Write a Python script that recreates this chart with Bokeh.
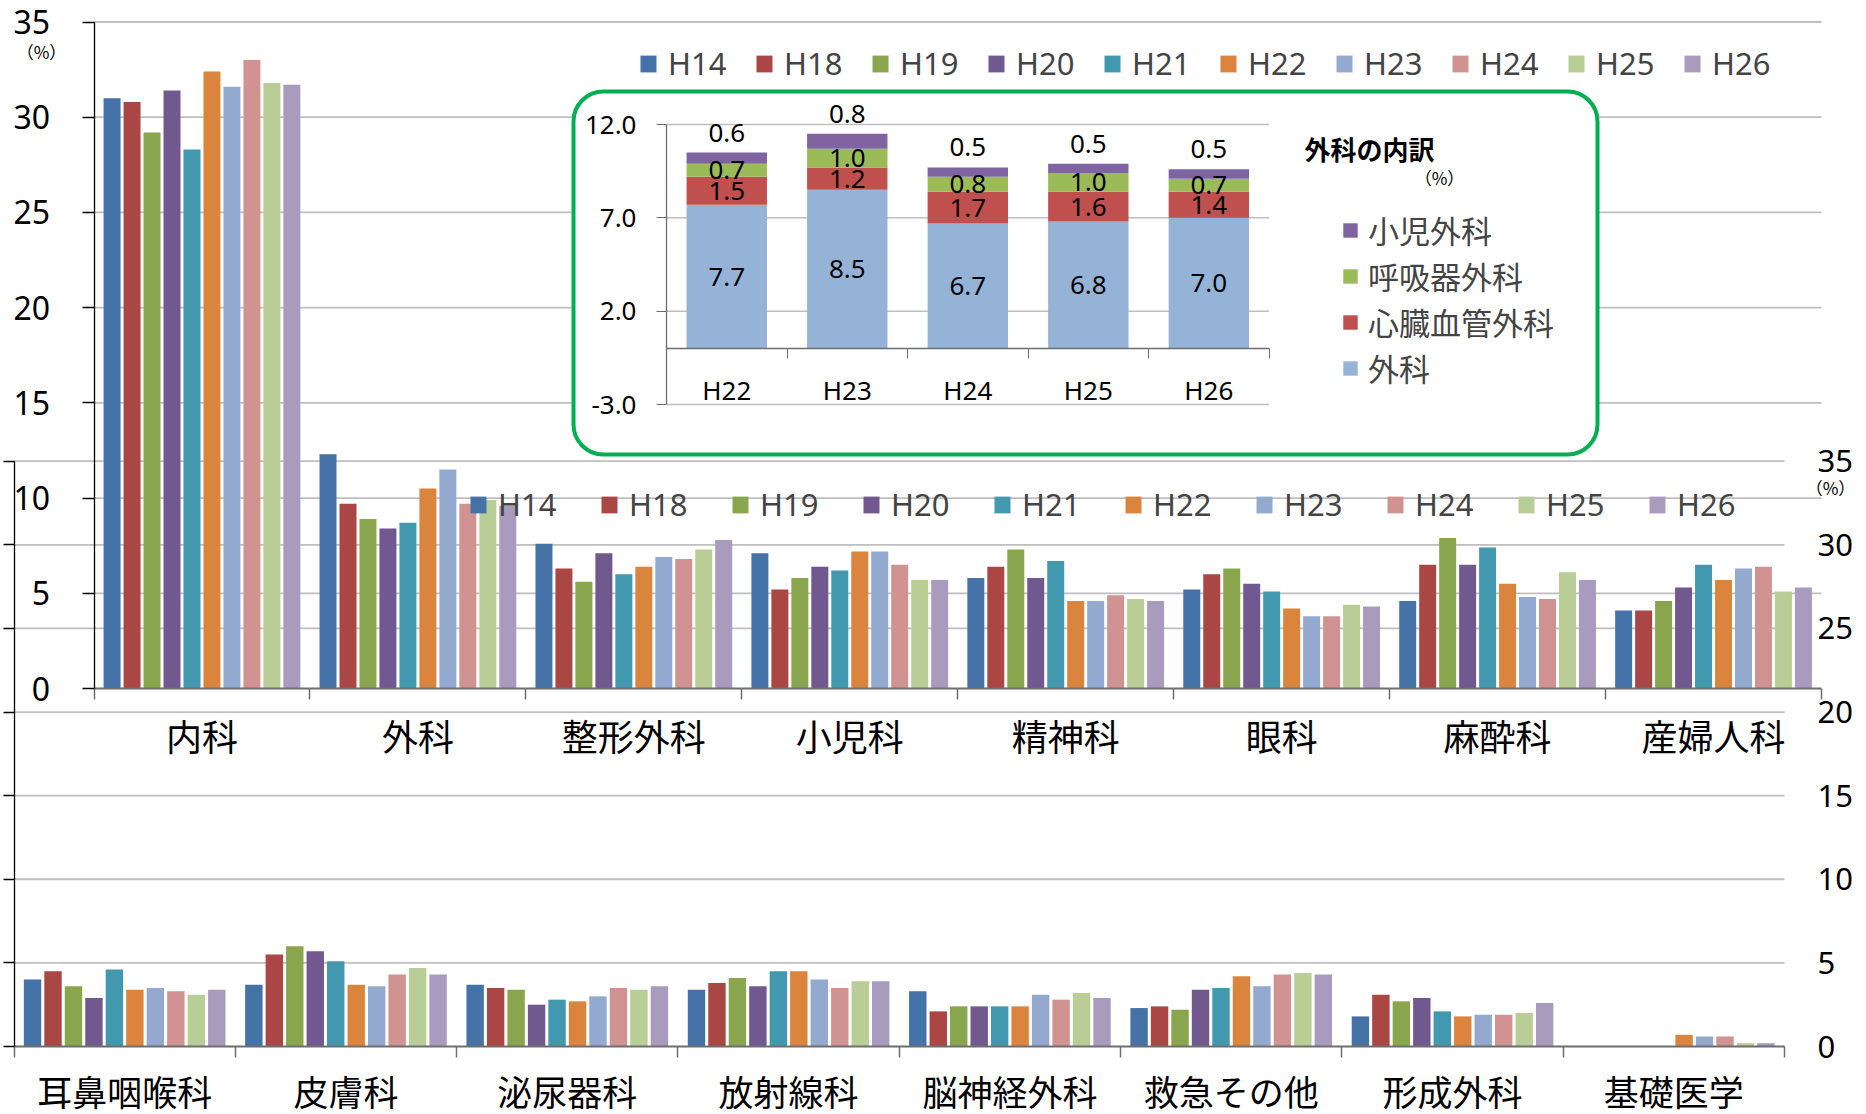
import numpy as np
from bokeh.plotting import figure
from bokeh.models import (Range1d, LinearAxis, FixedTicker, Legend, LegendItem,
                          Label, PrintfTickFormatter)
from bokeh.core.properties import value
from bokeh.embed import file_html
from bokeh.resources import INLINE

W, H, OFF = 1866, 1114, 0

# ---------------- data ----------------
years = ["H14", "H18", "H19", "H20", "H21", "H22", "H23", "H24", "H25", "H26"]
colors = ["#4572A7", "#AA4643", "#89A54E", "#71588F", "#4198AF",
          "#DB843D", "#93A9CF", "#D19392", "#B9CD96", "#A99BBD"]

depts_top = ["内科", "外科", "整形外科", "小児科", "精神科", "眼科", "麻酔科", "産婦人科"]
naika = [31.0, 30.8, 29.2, 31.4, 28.3, 32.4, 31.6, 33.0, 31.8, 31.7]
geka = [12.3, 9.7, 8.9, 8.4, 8.7, 10.5, 11.5, 9.7, 9.9, 9.6]
seikei = [7.6, 6.3, 5.6, 7.1, 6.0, 6.4, 6.9, 6.8, 7.3, 7.8]
shonika = [7.1, 5.2, 5.8, 6.4, 6.2, 7.2, 7.2, 6.5, 5.7, 5.7]
seishin = [5.8, 6.4, 7.3, 5.8, 6.7, 4.6, 4.6, 4.9, 4.7, 4.6]
ganka = [5.2, 6.0, 6.3, 5.5, 5.1, 4.2, 3.8, 3.8, 4.4, 4.3]
masui = [4.6, 6.5, 7.9, 6.5, 7.4, 5.5, 4.8, 4.7, 6.1, 5.7]
sanfujin = [4.1, 4.1, 4.6, 5.3, 6.5, 5.7, 6.3, 6.4, 5.1, 5.3]

depts_bottom = ["耳鼻咽喉科", "皮膚科", "泌尿器科", "放射線科", "脳神経外科", "救急その他", "形成外科", "基礎医学"]
jibi = [4.0, 4.5, 3.6, 2.9, 4.6, 3.4, 3.5, 3.3, 3.1, 3.4]
hifu = [3.7, 5.5, 6.0, 5.7, 5.1, 3.7, 3.6, 4.3, 4.7, 4.3]
hinyoki = [3.7, 3.5, 3.4, 2.5, 2.8, 2.7, 3.0, 3.5, 3.4, 3.6]
hoshasen = [3.4, 3.8, 4.1, 3.6, 4.5, 4.5, 4.0, 3.5, 3.9, 3.9]
noshinkei = [3.3, 2.1, 2.4, 2.4, 2.4, 2.4, 3.1, 2.8, 3.2, 2.9]
kyukyu = [2.3, 2.4, 2.2, 3.4, 3.5, 4.2, 3.6, 4.3, 4.4, 4.3]
keisei = [1.8, 3.1, 2.7, 2.9, 2.1, 1.8, 1.9, 1.9, 2.0, 2.6]
kiso = [None, None, None, None, None, 0.7, 0.6, 0.6, 0.2, 0.2]

inset_years = ["H22", "H23", "H24", "H25", "H26"]
inset_names = ["外科", "心臓血管外科", "呼吸器外科", "小児外科"]
inset_colors = ["#95B3D7", "#C0504D", "#9BBB59", "#8064A2"]
in_geka = [7.7, 8.5, 6.7, 6.8, 7.0]
in_shinzo = [1.5, 1.2, 1.7, 1.6, 1.4]
in_kokyu = [0.7, 1.0, 0.8, 1.0, 0.7]
in_shoni = [0.6, 0.8, 0.5, 0.5, 0.5]

ticks35 = [0, 5, 10, 15, 20, 25, 30, 35]
inset_ticks = [-3.0, 2.0, 7.0, 12.0]

JP = "Noto Sans CJK JP"
NUM = "Noto Sans"
GRID = "#BFBFBF"
AX = "#6E6E6E"


def xr(v0, p0, v1, p1):
    s = (v1 - v0) / (p1 - p0)
    return Range1d(v0 + (OFF - p0) * s, v0 + (OFF + W - p0) * s)


def yr(v0, p0, v1, p1):
    s = (v1 - v0) / (p1 - p0)
    return Range1d(v0 + (OFF + H - p0) * s, v0 + (OFF - p0) * s)


p = figure(width=W, height=H, x_range=Range1d(OFF, W + OFF), y_range=Range1d(H + OFF, OFF),
           x_axis_type=None, y_axis_type=None, min_border=0, toolbar_location=None,
           output_backend="svg", title=None, outline_line_color=None,
           background_fill_color="white", border_fill_color="white")
p.extra_x_ranges = {"x1": xr(-0.5, 93.5, 7.5, 1821), "x2": xr(-0.5, 13.5, 7.5, 1784),
                    "x3": xr(-0.5, 666, 4.5, 1268.6)}
p.extra_y_ranges = {"y1": yr(0, 688, 35, 21.5), "y2": yr(0, 1046, 35, 460.7),
                    "y3": yr(-3, 404, 12, 124)}

n = len(years)
slot = 0.925 / n
bw = slot * 0.85


def bars(table, xname, yname):
    arr = np.array([[np.nan if v is None else v for v in row] for row in table], dtype=float)
    rs = []
    for k in range(n):
        xs = np.arange(arr.shape[0]) + (k - (n - 1) / 2) * slot
        rs.append(p.vbar(x=xs, top=arr[:, k], bottom=0, width=bw, fill_color=colors[k],
                         line_color=None, x_range_name=xname, y_range_name=yname))
    return rs


# ---- chart 2 (behind) ----
g = ticks35[1:]
p.segment(x0=[-0.5] * len(g), x1=[7.5] * len(g), y0=g, y1=g, line_color=GRID, line_width=1.8,
          x_range_name="x2", y_range_name="y2")
r2 = bars([jibi, hifu, hinyoki, hoshasen, noshinkei, kyukyu, keisei, kiso], "x2", "y2")

# ---- chart 1 ----
p.segment(x0=[-0.5] * len(g), x1=[7.5] * len(g), y0=g, y1=g, line_color=GRID, line_width=1.8,
          x_range_name="x1", y_range_name="y1")
r1 = bars([naika, geka, seikei, shonika, seishin, ganka, masui, sanfujin], "x1", "y1")

# ---- inset ----
p.quad(left=[573], right=[1597], top=[91], bottom=[454], fill_color="white",
       line_color="#00B050", line_width=4, border_radius=30)
gi = [-3.0, 2.0, 7.0, 12.0]
p.segment(x0=[-0.5] * 4, x1=[4.5] * 4, y0=gi, y1=gi, line_color=GRID, line_width=1.5,
          x_range_name="x3", y_range_name="y3")
xi = np.arange(len(inset_years))
stack = [np.array(in_geka), np.array(in_shinzo), np.array(in_kokyu), np.array(in_shoni)]
bottom = np.zeros(len(xi))
r3 = []
mids = []
for vals, col in zip(stack, inset_colors):
    r3.append(p.vbar(x=xi, bottom=bottom.copy(), top=bottom + vals, width=0.667, fill_color=col,
                     line_color=None, x_range_name="x3", y_range_name="y3"))
    mids.append(bottom + vals / 2)
    bottom = bottom + vals
for j in range(3):
    p.text(x=xi, y=mids[j], text=[f"{v:.1f}" for v in stack[j]], text_align="center",
           text_baseline="middle", text_font=value(NUM), text_font_size="26px",
           text_color="black", x_range_name="x3", y_range_name="y3")
p.text(x=xi, y=bottom, text=[f"{v:.1f}" for v in stack[3]], text_align="center",
       text_baseline="middle", y_offset=-20, text_font=value(NUM), text_font_size="26px",
       text_color="black", x_range_name="x3", y_range_name="y3")

# ---------------- axes ----------------
def add_axis(side, xname, yname, **kw):
    ax = LinearAxis(x_range_name=xname, y_range_name=yname, **kw)
    p.add_layout(ax, side)
    return ax


cat_ticks = list(range(8))
cat_minor = [i - 0.5 for i in range(9)]

# chart 1
add_axis("left", "x1", "y1", fixed_location=-0.5, bounds=(0, 35), ticker=FixedTicker(ticks=ticks35),
         major_tick_out=12, major_tick_in=0, minor_tick_out=0, minor_tick_in=0,
         axis_line_color="black", axis_line_width=1.3, major_tick_line_color="black",
         major_tick_line_width=1.3, major_label_text_font=NUM, major_label_text_font_size="32px",
         major_label_text_color="black", major_label_standoff=32)
add_axis("below", "x1", "y1", fixed_location=0, bounds=(-0.5, 7.5),
         ticker=FixedTicker(ticks=cat_ticks, minor_ticks=cat_minor),
         major_label_overrides={i: d for i, d in enumerate(depts_top)},
         major_tick_out=0, major_tick_in=0, minor_tick_out=11, minor_tick_in=0,
         axis_line_color=AX, axis_line_width=2, minor_tick_line_color=AX, minor_tick_line_width=1.5,
         major_label_text_font=JP, major_label_text_font_size="36px",
         major_label_text_color="black", major_label_standoff=9)

# chart 2
add_axis("left", "x2", "y2", fixed_location=-0.5, bounds=(0, 35), ticker=FixedTicker(ticks=ticks35),
         major_tick_out=11, major_tick_in=0, minor_tick_out=0, minor_tick_in=0,
         axis_line_color="black", axis_line_width=1.3, major_tick_line_color="black",
         major_tick_line_width=1.3, major_label_overrides={t: "" for t in ticks35})
add_axis("right", "x2", "y2", fixed_location=7.5, bounds=(0, 35), ticker=FixedTicker(ticks=ticks35),
         major_tick_out=0, major_tick_in=0, minor_tick_out=0, minor_tick_in=0,
         axis_line_color=None, major_tick_line_color=None,
         major_label_text_font=NUM, major_label_text_font_size="31px",
         major_label_text_color="black", major_label_standoff=33)
add_axis("below", "x2", "y2", fixed_location=0, bounds=(-0.5, 7.5),
         ticker=FixedTicker(ticks=cat_ticks, minor_ticks=cat_minor),
         major_label_overrides={i: d for i, d in enumerate(depts_bottom)},
         major_tick_out=0, major_tick_in=0, minor_tick_out=11, minor_tick_in=0,
         axis_line_color=AX, axis_line_width=2, minor_tick_line_color=AX, minor_tick_line_width=1.5,
         major_label_text_font=JP, major_label_text_font_size="35px",
         major_label_text_color="black", major_label_standoff=7)

# inset
add_axis("left", "x3", "y3", fixed_location=-0.5, bounds=(-3, 12), ticker=FixedTicker(ticks=inset_ticks),
         formatter=PrintfTickFormatter(format="%.1f"),
         major_tick_out=10, major_tick_in=0, minor_tick_out=0, minor_tick_in=0,
         axis_line_color=AX, axis_line_width=1.3, major_tick_line_color=AX,
         major_label_text_font=NUM, major_label_text_font_size="26px",
         major_label_text_color="black", major_label_standoff=20)
add_axis("below", "x3", "y3", fixed_location=0, bounds=(-0.5, 4.5),
         ticker=FixedTicker(ticks=list(range(5)), minor_ticks=[i - 0.5 for i in range(6)]),
         major_label_overrides={i: d for i, d in enumerate(inset_years)},
         major_tick_out=0, major_tick_in=0, minor_tick_out=10, minor_tick_in=0,
         axis_line_color=AX, axis_line_width=1.5, minor_tick_line_color=AX,
         major_label_text_font=NUM, major_label_text_font_size="26px",
         major_label_text_color="black", major_label_standoff=13)

# ---------------- legends ----------------
common = dict(padding=0, margin=0, border_line_color=None, background_fill_alpha=0)
leg2 = Legend(items=[LegendItem(label=value(y), renderers=[r]) for y, r in zip(years, r2)],
              orientation="horizontal", location=(468, H - 505 - 20), glyph_width=20, glyph_height=21,
              label_standoff=10, label_width=70, label_height=40, spacing=31,
              label_text_font=NUM, label_text_font_size="31px", level="underlay", **common)
p.add_layout(leg2)
leg1 = Legend(items=[LegendItem(label=value(y), renderers=[r]) for y, r in zip(years, r1)],
              orientation="horizontal", location=(638, H - 64 - 20), glyph_width=20, glyph_height=21,
              label_standoff=10, label_width=70, label_height=40, spacing=16,
              label_text_font=NUM, label_text_font_size="31px", **common)
p.add_layout(leg1)
leg3 = Legend(items=[LegendItem(label=value(nm), renderers=[r]) for nm, r in
                     reversed(list(zip(inset_names, r3)))],
              orientation="vertical", location=(1341, H - 390), glyph_width=18, glyph_height=18,
              label_standoff=9, label_height=44, spacing=1,
              label_text_font=JP, label_text_font_size="31px", **common)
p.add_layout(leg3)

# ---------------- text labels ----------------
p.add_layout(Label(x=41, y=51, text="（%）", text_align="center", text_baseline="middle",
                   text_font=JP, text_font_size="17px", text_color="black"))
p.add_layout(Label(x=1830, y=487, text="（%）", text_align="center", text_baseline="middle",
                   text_font=JP, text_font_size="17px", text_color="black"))
p.add_layout(Label(x=1304, y=148, text="外科の内訳", text_align="left", text_baseline="middle",
                   text_font=JP, text_font_size="26px", text_font_style="bold", text_color="black"))
p.add_layout(Label(x=1439, y=177, text="（%）", text_align="center", text_baseline="middle",
                   text_font=JP, text_font_size="17px", text_color="black"))

open("out.html", "w").write(file_html(p, INLINE))
